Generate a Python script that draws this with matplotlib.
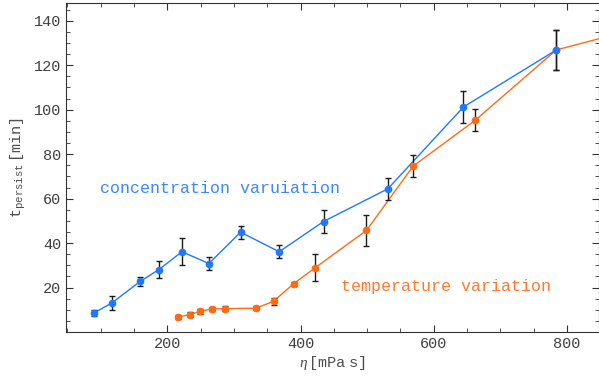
import numpy as np
import matplotlib.pyplot as plt
from matplotlib.ticker import MultipleLocator

plt.rcParams['font.family'] = ['Liberation Mono', 'DejaVu Sans Mono']
plt.rcParams['mathtext.fontset'] = 'custom'
plt.rcParams['mathtext.rm'] = 'Liberation Mono'
plt.rcParams['mathtext.it'] = 'Liberation Serif:italic'

# concentration variation
conc_eta = [90, 117, 159.5, 187.5, 222, 262.5, 310, 368, 434.5, 531, 644.5, 784]
conc_t = [8.6, 13.1, 22.8, 28.1, 36.1, 30.8, 44.9, 36.1, 49.7, 64.4, 101.2, 126.9]
conc_err = [1.5, 3, 2, 4, 6, 3, 3, 3, 5, 5, 7, 9]

# temperature variation
temp_eta = [216.5, 234, 249.5, 267, 286, 333, 359.5, 389.5, 422, 499, 569, 662, 784, 900]
temp_t = [6.8, 7.8, 9.3, 10.4, 10.5, 10.7, 13.8, 21.7, 28.9, 45.7, 74.6, 95.2, 126.9, 136]
temp_err = [1, 1, 1, 1, 1, 1, 1.5, 1, 6, 7, 5, 5, 9, 0]

blue = '#1f78ff'
orange = '#ff6a13'

fig = plt.figure(figsize=(5.99, 3.79), dpi=100)
ax = fig.add_axes([66 / 599, 47 / 379, 533 / 599, 329 / 379])

ax.plot(temp_eta, temp_t, '-', color=orange, lw=1.0, zorder=2)
ax.errorbar(temp_eta, temp_t, yerr=temp_err, fmt='none', ecolor='0.1',
            elinewidth=1.0, capsize=2.5, capthick=1.0, zorder=3)
ax.plot(temp_eta, temp_t, 'o', color=orange, ms=4.5, zorder=4)

ax.plot(conc_eta, conc_t, '-', color=blue, lw=1.0, zorder=2)
ax.errorbar(conc_eta, conc_t, yerr=conc_err, fmt='none', ecolor='0.1',
            elinewidth=1.0, capsize=2.5, capthick=1.0, zorder=3)
ax.plot(conc_eta, conc_t, 'o', color=blue, ms=4.5, zorder=4)

ax.text(279, 64.5, 'concentration varuiation', color='#3a88ff', fontsize=12,
        ha='center', va='center')
ax.text(619, 20.4, 'temperature variation', color='#ff7a30', fontsize=12,
        ha='center', va='center')

ax.set_xlim(48, 848)
ax.set_ylim(0, 148)
ax.xaxis.set_major_locator(MultipleLocator(200))
ax.xaxis.set_minor_locator(MultipleLocator(50))
ax.yaxis.set_minor_locator(MultipleLocator(5))
ax.set_yticks([20, 40, 60, 80, 100, 120, 140])
ax.tick_params(which='both', direction='in', top=True, right=True,
               labelsize=11, color='0.2', labelcolor='0.25')
ax.tick_params(which='major', length=5)
ax.tick_params(which='minor', length=3)
for sp in ax.spines.values():
    sp.set_color('0.2')
    sp.set_linewidth(0.8)

ax.set_xlabel(r'$\eta\,\mathrm{[mPa\ s]}$', fontsize=11, color='0.3', labelpad=2)
ax.set_ylabel(r'$\mathrm{t}_{\mathrm{persist}}\,\mathrm{[min]}$', fontsize=11,
              color='0.3', labelpad=4)

fig.savefig('out.png', dpi=100)
